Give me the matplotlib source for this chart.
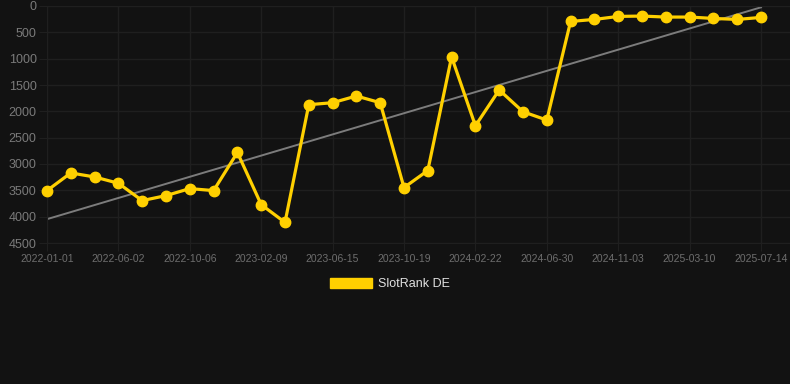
import matplotlib
matplotlib.use("Agg")
import matplotlib.pyplot as plt
from matplotlib.patches import Patch
import numpy as np

BG     = "#121212"
GRID   = "#1f1f1f"
TICK   = "#7a7a7a"
YELLOW = "#ffd000"
TREND  = "#7c7c7c"
DPI    = 100

dates = [
    "2022-01-01", "2022-02-21", "2022-04-12", "2022-06-02", "2022-07-17", "2022-08-31",
    "2022-10-06", "2022-11-20", "2022-12-26", "2023-02-09", "2023-03-27", "2023-05-01",
    "2023-06-15", "2023-07-30", "2023-09-04", "2023-10-19", "2023-12-03", "2024-01-08",
    "2024-02-22", "2024-04-07", "2024-05-16", "2024-06-30", "2024-08-14", "2024-09-19",
    "2024-11-03", "2024-12-18", "2025-01-23", "2025-03-10", "2025-04-24", "2025-05-30",
    "2025-07-14",
]
rank_de = [
    3505, 3170, 3246, 3366, 3695, 3600, 3467, 3505, 2781, 3771, 4109,
    1874, 1836, 1709, 1836, 3448, 3124, 966, 2274, 1594, 2008, 2166,
    293, 255, 198, 191, 210, 210, 236, 255, 217,
]
y_ticks = [0, 500, 1000, 1500, 2000, 2500, 3000, 3500, 4000, 4500]

plt.rcParams["font.family"] = ["Liberation Sans", "DejaVu Sans"]

fig = plt.figure(figsize=(790 / DPI, 384 / DPI), dpi=DPI)
fig.patch.set_facecolor(BG)
# axes run to the right edge so the horizontal grid lines do too
ax = fig.add_axes([47 / 790, 1 - 243 / 384, 743 / 790, 237 / 384])
ax.set_facecolor(BG)

x = np.arange(len(rank_de))
n = len(rank_de) - 1

# trend line (least squares over the series)
coef = np.polyfit(x, rank_de, 1)
ax.plot(x, np.polyval(coef, x), color=TREND, lw=1.4, zorder=2)

ax.plot(x, rank_de, color=YELLOW, lw=2.3, marker="o", ms=7.5,
        markerfacecolor=YELLOW, markeredgecolor=YELLOW, zorder=3, clip_on=False)

ax.set_xlim(0, n * 743 / 714)
ax.set_ylim(4500, 0)
ax.set_yticks(y_ticks)
ax.set_yticklabels([str(v) for v in y_ticks])
ax.set_xticks(x[::3])
ax.set_xticklabels(dates[::3])

ax.grid(True, color=GRID, lw=1)
ax.set_axisbelow(True)
ax.tick_params(axis="y", colors=GRID, labelcolor=TICK, labelsize=9, length=6, pad=1.5)
ax.tick_params(axis="x", colors=GRID, labelcolor="#6e6e6e", labelsize=7.5, length=6, pad=2)
for spine in ax.spines.values():
    spine.set_edgecolor(GRID)
ax.spines["right"].set_visible(False)

handle = Patch(facecolor=YELLOW, edgecolor=YELLOW)
leg = fig.legend([handle], ["SlotRank DE"], loc="center",
                 bbox_to_anchor=(390 / 790, 1 - 284 / 384), frameon=False,
                 fontsize=9, handlelength=3.3, handleheight=0.8, handletextpad=0.5)
for t in leg.get_texts():
    t.set_color("#e0e0e0")

plt.savefig("out.png", dpi=DPI, facecolor=BG)
plt.close(fig)
